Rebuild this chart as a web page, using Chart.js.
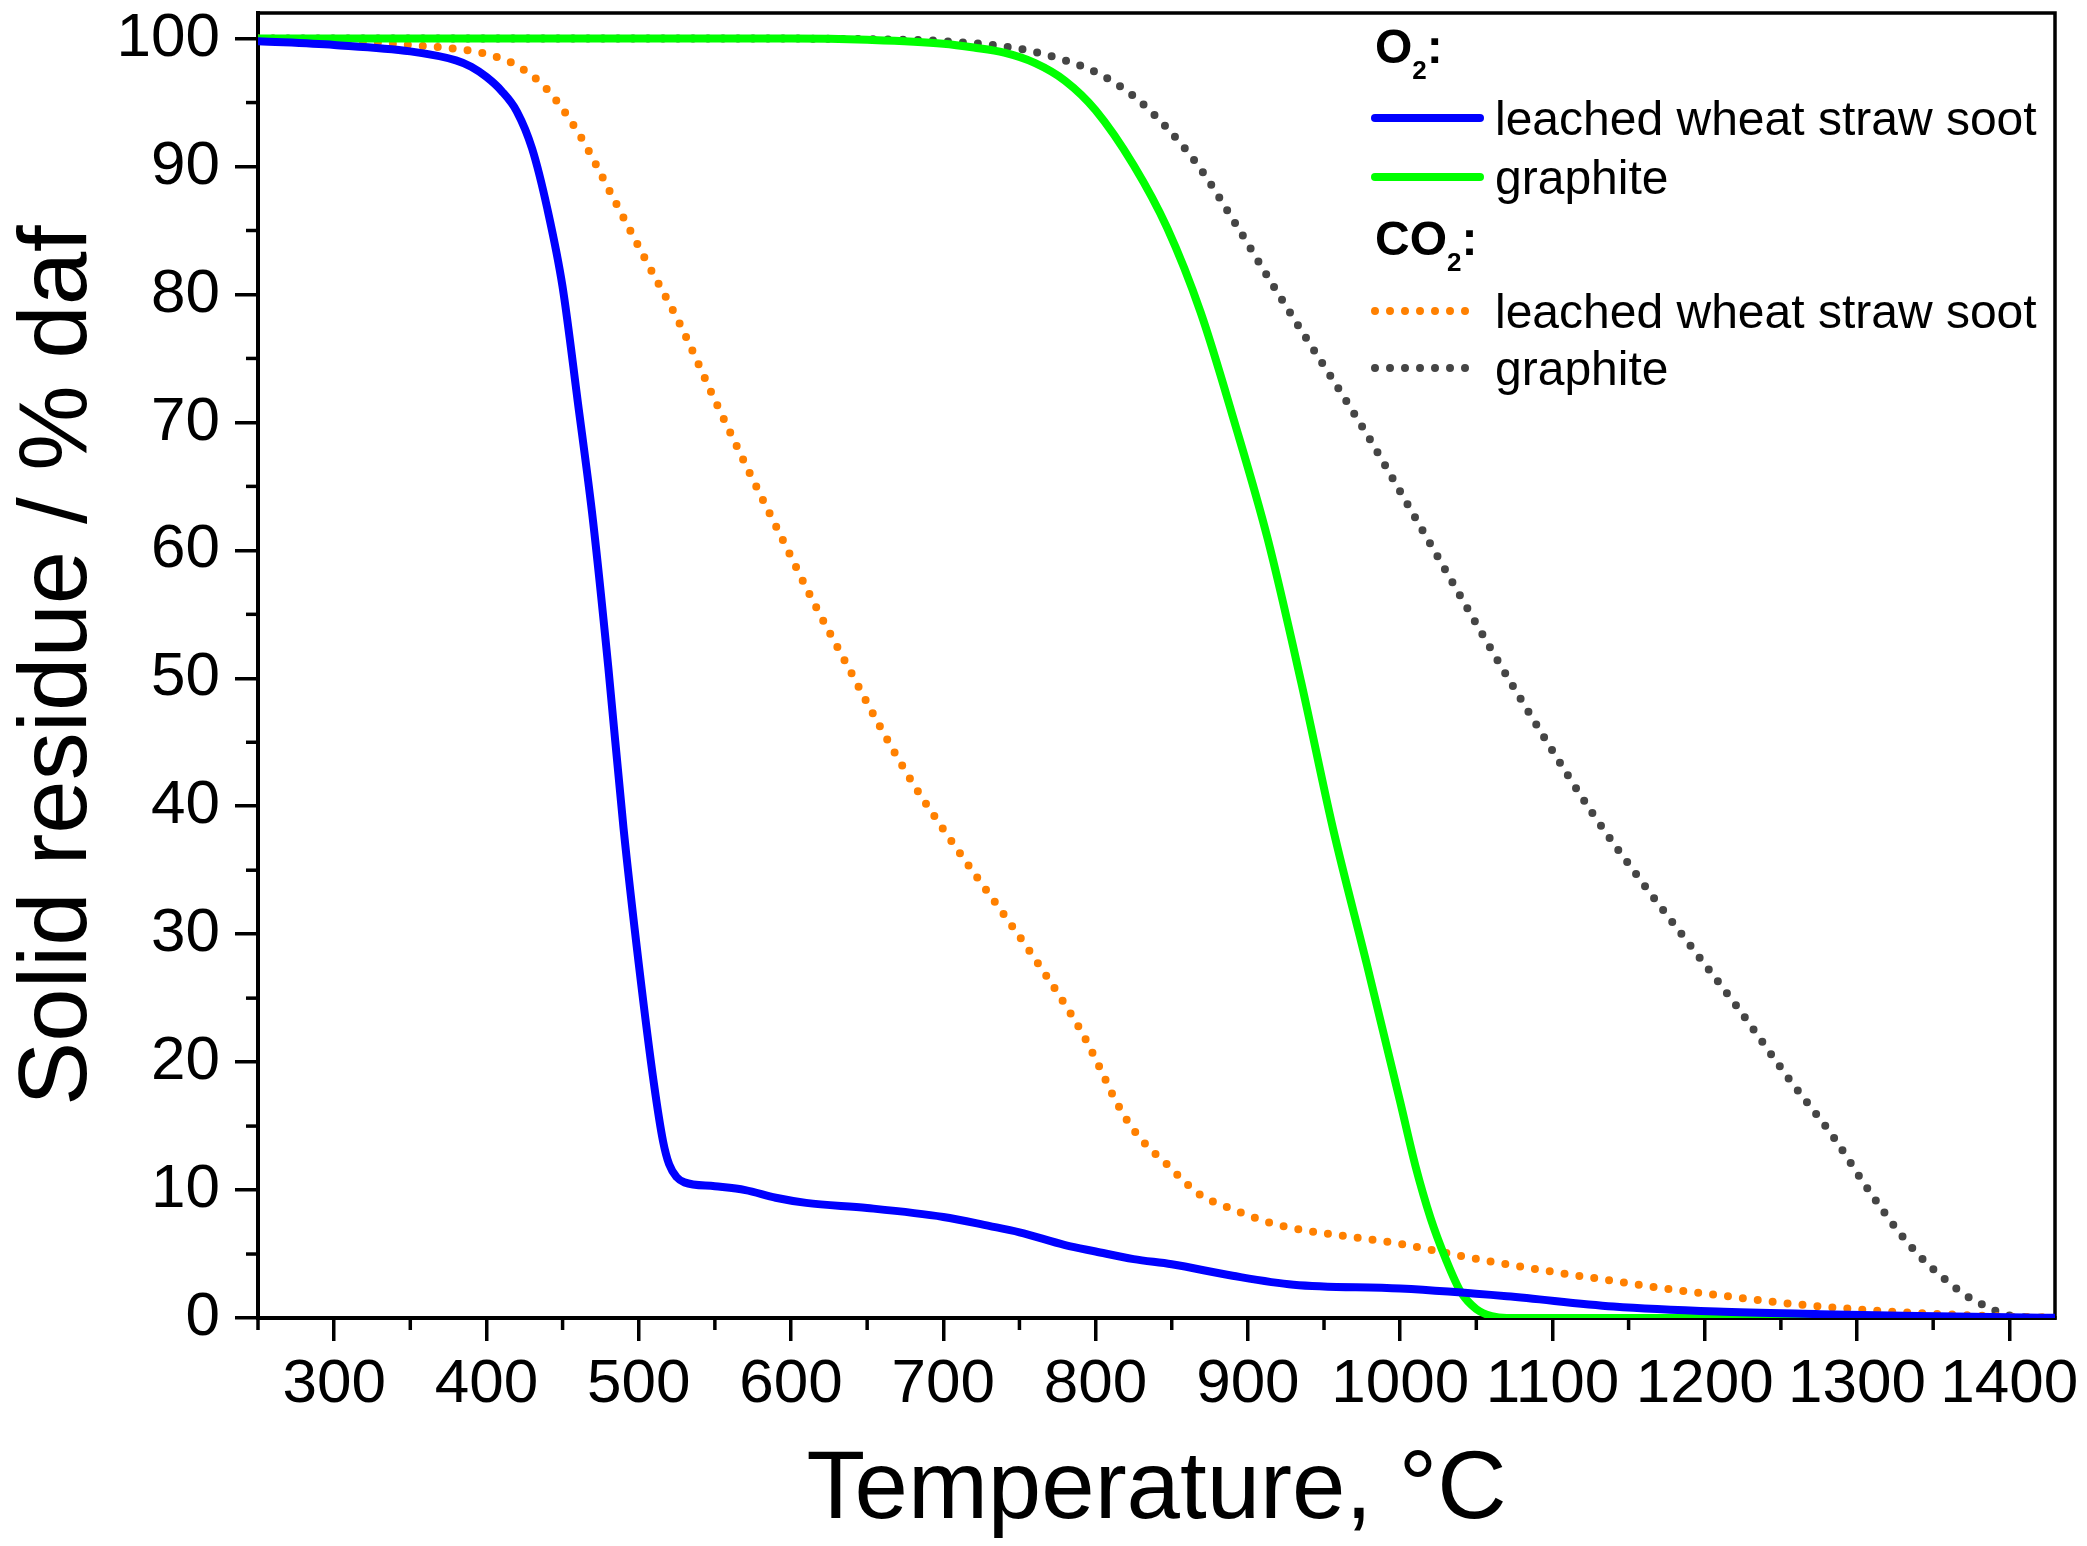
<!DOCTYPE html>
<html>
<head>
<meta charset="utf-8">
<script src="https://cdn.jsdelivr.net/npm/chart.js@4.4.0/dist/chart.umd.min.js"></script>
<style>
  html, body { margin: 0; padding: 0; background: #fff; }
</style>
</head>
<body>
<canvas id="tgaChart" width="2087" height="1546"></canvas>
<script>
// TGA curves: solid residue vs temperature
const sootO2Temp = [250, 300, 350, 380, 390, 400, 410, 420, 430, 440, 450, 460, 470, 480, 490, 500, 510, 516, 520, 525, 530, 550, 570, 590, 610, 650, 700, 730, 750, 780, 800, 825, 850, 890, 930, 1000, 1070, 1140, 1208, 1276, 1340, 1400, 1430];
const sootO2 = [99.8, 99.5, 99.0, 98.3, 97.8, 97.0, 95.9, 94.3, 91.4, 86.7, 80.6, 71.6, 62.3, 50.9, 38.3, 27.7, 18.3, 13.8, 12.0, 11.0, 10.6, 10.3, 10.0, 9.4, 9.0, 8.6, 7.9, 7.2, 6.7, 5.7, 5.2, 4.6, 4.2, 3.3, 2.6, 2.3, 1.7, 0.9, 0.5, 0.3, 0.15, 0.05, 0.02];

const graphiteO2Temp = [250, 600, 650, 700, 720, 740, 760, 780, 800, 825, 847, 869, 891, 913, 935, 956, 978, 1000, 1010, 1020, 1030, 1040, 1050, 1060, 1070, 1430];
const graphiteO2 = [100, 100, 99.9, 99.6, 99.3, 98.9, 98.1, 96.7, 94.4, 90.1, 85.2, 78.6, 70.1, 60.9, 49.7, 38.2, 27.7, 16.9, 11.9, 7.8, 4.6, 2.0, 0.7, 0.15, 0, 0];

const sootCO2Temp = [250, 300, 350, 380, 400, 420, 440, 462, 483, 505, 527, 549, 571, 593, 615, 637, 659, 680, 700, 720, 740, 760, 781, 792, 803, 814, 825, 836, 847, 858, 869, 890, 913, 935, 970, 1000, 1038, 1070, 1106, 1140, 1174, 1208, 1242, 1276, 1310, 1345, 1378, 1410, 1430];
const sootCO2 = [100, 99.9, 99.5, 99.2, 98.8, 97.9, 96.0, 92.3, 87.6, 82.6, 77.7, 72.0, 66.5, 61.2, 55.9, 51.0, 46.1, 41.8, 38.2, 34.8, 31.5, 28.1, 24.3, 22.1, 19.5, 16.8, 14.7, 13.2, 12.0, 10.7, 9.6, 8.5, 7.5, 6.9, 6.3, 5.8, 4.9, 4.2, 3.5, 2.9, 2.3, 1.8, 1.3, 0.9, 0.6, 0.35, 0.2, 0.08, 0.05];

const graphiteCO2Temp = [250, 600, 650, 700, 750, 780, 803, 825, 847, 869, 891, 915, 935, 956, 979, 1000, 1030, 1062, 1094, 1126, 1158, 1190, 1222, 1254, 1286, 1303, 1317, 1331, 1344, 1358, 1371, 1385, 1398, 1410, 1430];
const graphiteCO2 = [100, 100, 99.95, 99.8, 99.2, 98.3, 97.2, 95.5, 93.0, 89.8, 85.7, 81.0, 77.2, 73.3, 68.9, 64.6, 58.4, 51.8, 45.5, 39.5, 34.2, 29.2, 24.2, 18.9, 13.9, 10.8, 8.4, 6.2, 4.5, 3.0, 1.8, 0.9, 0.25, 0.05, 0];

const seriesLabels = ['leached wheat straw soot', 'graphite', 'leached wheat straw soot', 'graphite'];
const gasLabels = ['O', 'CO'];   // each followed by subscript 2

const FONT = '"Liberation Sans", Arial, Helvetica, sans-serif';
Chart.defaults.font.family = FONT;
Chart.defaults.color = '#000';

const toPoints = (xs, ys) => xs.map((x, i) => ({ x: x, y: ys[i] }));

function solid(color) {
  return { borderColor: color, borderWidth: 8, borderCapStyle: 'round', borderJoinStyle: 'round' };
}
function dotted(color) {
  return { borderColor: color, borderWidth: 8, borderCapStyle: 'round', borderDash: [0, 15] };
}

// minor ticks + top/right frame
const frameTicks = {
  id: 'frameTicks',
  beforeDatasetsDraw(chart) {
    const { ctx, chartArea: a, scales } = chart;
    ctx.save();
    ctx.strokeStyle = '#000';
    ctx.lineWidth = 3.5;
    ctx.strokeRect(a.left, a.top, a.right - a.left, a.bottom - a.top);
    ctx.lineCap = 'butt';
    scales.x.ticks.forEach(t => {
      if (t.value % 100 === 0) return;
      const px = scales.x.getPixelForValue(t.value);
      ctx.beginPath(); ctx.moveTo(px, a.bottom); ctx.lineTo(px, a.bottom + 12); ctx.stroke();
    });
    scales.y.ticks.forEach(t => {
      if (t.value % 10 === 0) return;
      const py = scales.y.getPixelForValue(t.value);
      ctx.beginPath(); ctx.moveTo(a.left, py); ctx.lineTo(a.left - 12, py); ctx.stroke();
    });
    ctx.restore();
  }
};

// grouped legend: O2 / CO2 headers with the two samples under each
const groupedLegend = {
  id: 'groupedLegend',
  afterDraw(chart) {
    const { ctx } = chart;
    const ds = chart.data.datasets;
    const x0 = 1371, x1 = 1484, tx = 1495;
    const headerY = [63, 255];
    const rowY = [[118, 177], [311, 368]];
    ctx.save();
    ctx.fillStyle = '#000';
    ctx.textBaseline = 'alphabetic';
    ctx.textAlign = 'left';
    gasLabels.forEach((gas, g) => {
      let hx = 1375;
      ctx.font = 'bold 48px ' + FONT;
      ctx.fillText(gas, hx, headerY[g]);
      hx += ctx.measureText(gas).width;
      ctx.font = 'bold 26px ' + FONT;
      ctx.fillText('2', hx, headerY[g] + 16);
      hx += ctx.measureText('2').width;
      ctx.font = 'bold 48px ' + FONT;
      ctx.fillText(':', hx, headerY[g]);

      rowY[g].forEach((y, r) => {
        const d = ds[g * 2 + r];
        ctx.save();
        ctx.strokeStyle = d.borderColor;
        ctx.lineWidth = d.borderWidth;
        ctx.lineCap = 'round';
        ctx.setLineDash(d.borderDash || []);
        ctx.beginPath(); ctx.moveTo(x0 + 4, y); ctx.lineTo(x1 - 4, y); ctx.stroke();
        ctx.restore();
        ctx.font = '48px ' + FONT;
        ctx.fillText(d.label, tx, y + 17);
      });
    });
    ctx.restore();
  }
};

new Chart(document.getElementById('tgaChart'), {
  type: 'line',
  data: {
    datasets: [
      Object.assign({ label: seriesLabels[0], data: toPoints(sootO2Temp, sootO2) }, solid('#0000ff')),
      Object.assign({ label: seriesLabels[1], data: toPoints(graphiteO2Temp, graphiteO2) }, solid('#00ff00')),
      Object.assign({ label: seriesLabels[2], data: toPoints(sootCO2Temp, sootCO2) }, dotted('#ff8000')),
      Object.assign({ label: seriesLabels[3], data: toPoints(graphiteCO2Temp, graphiteCO2) }, dotted('#454545'))
    ]
  },
  options: {
    responsive: false,
    animation: false,
    events: [],
    elements: { point: { radius: 0 }, line: { cubicInterpolationMode: 'monotone' } },
    layout: { padding: { top: 13, right: 32, left: 0, bottom: 0 } },
    plugins: { legend: { display: false }, tooltip: { enabled: false } },
    scales: {
      x: {
        type: 'linear',
        min: 250,
        max: 1430,
        afterFit(scale) {
          scale.height = 228;
          scale.paddingLeft = 0;
          scale.paddingRight = 0;
        },
        border: { display: true, color: '#000', width: 4 },
        grid: {
          drawOnChartArea: false,
          tickLength: 23,
          lineWidth: 3.5,
          tickColor: c => (c.tick && c.tick.value % 100 === 0) ? '#000' : 'rgba(0,0,0,0)'
        },
        ticks: {
          stepSize: 50,
          includeBounds: false,
          autoSkip: false,
          maxRotation: 0,
          padding: 7,
          font: { size: 62 },
          callback: v => (v % 100 === 0 ? String(v) : '')
        },
        title: {
          display: true,
          text: 'Temperature, °C',
          font: { size: 96, lineHeight: 1.13 },
          padding: { top: 0, bottom: 0 }
        }
      },
      y: {
        min: 0,
        max: 102,
        afterFit(scale) {
          scale.width = 258;
          scale.paddingTop = 0;
          scale.paddingBottom = 0;
        },
        border: { display: true, color: '#000', width: 4 },
        grid: {
          drawOnChartArea: false,
          tickLength: 23,
          lineWidth: 3.5,
          tickColor: c => (c.tick && c.tick.value % 10 === 0) ? '#000' : 'rgba(0,0,0,0)'
        },
        ticks: {
          stepSize: 5,
          includeBounds: false,
          autoSkip: false,
          padding: 15,
          font: { size: 62 },
          callback: v => (v % 10 === 0 ? String(v) : '')
        },
        title: {
          display: true,
          text: 'Solid residue / % daf',
          font: { size: 96 },
          padding: { top: 2, bottom: 0 }
        }
      }
    }
  },
  plugins: [frameTicks, groupedLegend]
});
</script>
</body>
</html>
